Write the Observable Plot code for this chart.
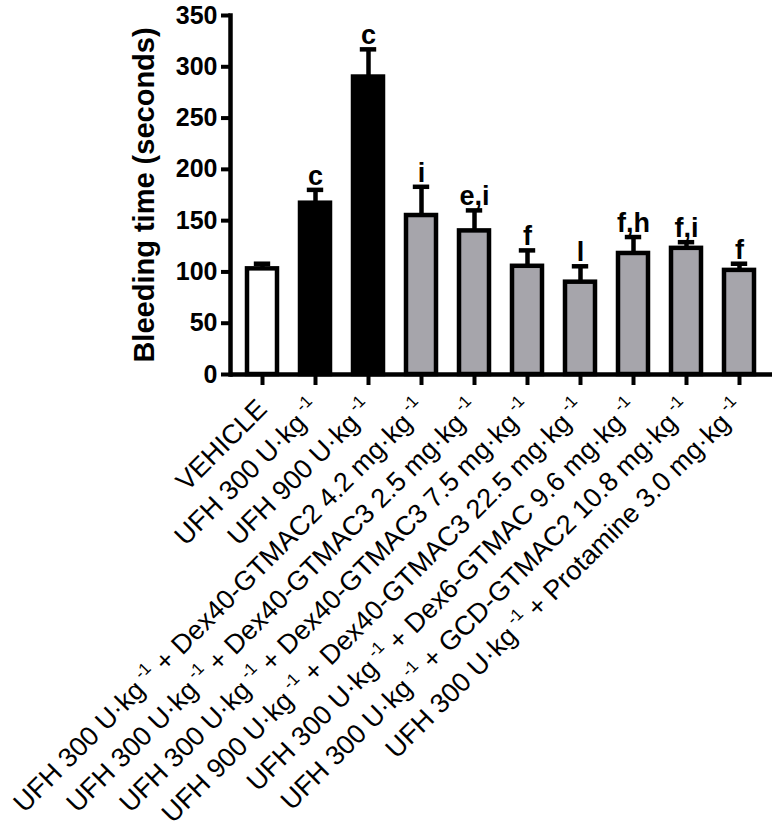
<!DOCTYPE html>
<html><head><meta charset="utf-8">
<script src="https://cdn.jsdelivr.net/npm/d3@7"></script>
<script src="https://cdn.jsdelivr.net/npm/@observablehq/plot@0.6"></script>
<style>body{margin:0;background:#fff}</style>
</head><body><div id="chart"></div>
<script>
const categories = [
  "VEHICLE",
  "UFH 300 U·kg-1",
  "UFH 900 U·kg-1",
  "UFH 300 U·kg-1 + Dex40-GTMAC2 4.2 mg·kg-1",
  "UFH 300 U·kg-1 + Dex40-GTMAC3 2.5 mg·kg-1",
  "UFH 300 U·kg-1 + Dex40-GTMAC3 7.5 mg·kg-1",
  "UFH 900 U·kg-1 + Dex40-GTMAC3 22.5 mg·kg-1",
  "UFH 300 U·kg-1 + Dex6-GTMAC 9.6 mg·kg-1",
  "UFH 300 U·kg-1 + GCD-GTMAC2 10.8 mg·kg-1",
  "UFH 300 U·kg-1 + Protamine 3.0 mg·kg-1"
];
const means = [103, 167, 290, 155, 140, 105.5, 90, 118, 123, 101.5];
const sems = [5, 13, 27, 28, 20, 15.5, 15.5, 16, 6, 6.5];
const letters = ["", "c", "c", "i", "e,i", "f", "l", "f,h", "f,i", "f"];
const groupColors = ["#ffffff", "#000000", "#000000", "#a6a5ab", "#a6a5ab", "#a6a5ab", "#a6a5ab", "#a6a5ab", "#a6a5ab", "#a6a5ab"];
const yTicks = [0, 50, 100, 150, 200, 250, 300, 350];
const yTitle = "Bleeding time (seconds)";

const data = categories.map((c, i) => ({
  name: c, mean: means[i], top: means[i] + sems[i], letter: letters[i], color: groupColors[i]
}));

const font = "'Liberation Sans', Arial, Helvetica, sans-serif";
const chart = Plot.plot({
  width: 777, height: 829,
  marginLeft: 230, marginRight: 5, marginTop: 15, marginBottom: 455,
  style: {fontFamily: font, background: "white", color: "black"},
  x: {domain: categories, paddingInner: 0.426, paddingOuter: 0.232},
  y: {domain: [0, 350]},
  color: {type: "identity"},
  marks: [
    Plot.ruleX(data, {x: "name", y1: "mean", y2: "top", stroke: "black", strokeWidth: 4.5}),
    Plot.tickY(data, {x: "name", y: "top", stroke: "black", strokeWidth: 4.5, insetLeft: 6.8, insetRight: 6.8}),
    Plot.barY(data, {x: "name", y: "mean", fill: "color", stroke: "black", strokeWidth: 4.5}),
    Plot.text(data, {x: "name", y: "top", text: "letter", lineAnchor: "bottom", dy: -5, fontSize: 27, fontWeight: "bold", fill: "black"}),
    Plot.axisY({ticks: yTicks, tickSize: 9, tickPadding: 4, strokeWidth: 4, fontSize: 25, fontWeight: "bold", label: null}),
    Plot.text([yTitle], {frameAnchor: "left", textAnchor: "middle", rotate: -90, dx: -86, fontSize: 29, fontWeight: "bold", fill: "black"}),
    Plot.axisX({tickSize: 11, tickPadding: 19, tickRotate: -45, strokeWidth: 4, fontSize: 27, label: null}),
    Plot.ruleY([0], {stroke: "black", strokeWidth: 4.5}),
    Plot.frame({anchor: "left", stroke: "black", strokeWidth: 4.5})
  ]
});
document.getElementById("chart").appendChild(chart);

// superscript "-1" in tick labels
const ns = "http://www.w3.org/2000/svg";
chart.querySelectorAll("text").forEach(t => {
  if (t.querySelector("tspan")) return;
  const s = t.textContent;
  if (!s.includes("kg-1")) return;
  const parts = s.split("kg-1");
  t.textContent = "";
  parts.forEach((p, i) => {
    const last = i === parts.length - 1;
    const base = document.createElementNS(ns, "tspan");
    base.textContent = last ? p : p + "kg";
    if (i > 0) base.setAttribute("dy", "12");
    if (!base.textContent) base.textContent = "\u200B";
    t.appendChild(base);
    if (!last) {
      const sup = document.createElementNS(ns, "tspan");
      sup.textContent = " -1";
      sup.setAttribute("dy", "-12");
      sup.setAttribute("font-size", "17");
      t.appendChild(sup);
    }
  });
});
</script>
</body></html>
